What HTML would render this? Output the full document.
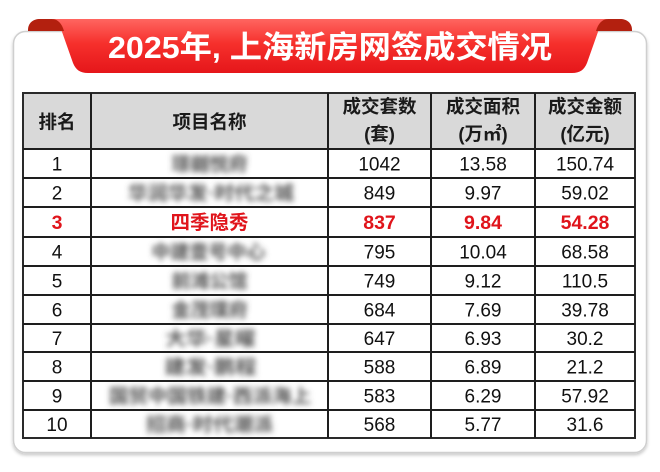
<!DOCTYPE html>
<html><head><meta charset="utf-8">
<style>
html,body{margin:0;padding:0;background:#fff;}
body{width:660px;height:472px;overflow:hidden;}
svg{display:block;}
text{font-family:"Liberation Sans","Noto Sans CJK SC",sans-serif;}
</style></head>
<body>
<svg width="660" height="472" viewBox="0 0 660 472" xmlns="http://www.w3.org/2000/svg">
<defs>
<linearGradient id="rg" x1="0" y1="0" x2="0" y2="1">
<stop offset="0" stop-color="#ff6560"/>
<stop offset="0.45" stop-color="#f6302c"/>
<stop offset="1" stop-color="#e5161a"/>
</linearGradient>
<filter id="bl" x="-10%" y="-80%" width="120%" height="260%"><feGaussianBlur stdDeviation="2.8"/></filter>
<filter id="sh" x="-5%" y="-5%" width="110%" height="110%"><feDropShadow dx="0" dy="2" stdDeviation="1.5" flood-color="#000" flood-opacity="0.22"/></filter>
</defs>

<!-- card -->
<rect x="13.5" y="31.5" width="633" height="421" rx="12" ry="12" fill="#fff" stroke="#cfcfcf" stroke-width="1.5" filter="url(#sh)"/>

<!-- ribbon -->
<path d="M50,19 H610 C604,19 601,23 599,29 L587,63 C584,70 580,73 572,73 H88 C80,73 76,70 73,63 L61,29 C59,23 56,19 50,19 Z" fill="url(#rg)"/>
<path d="M28,31 V30 C28,23 33,19 40,19 H52 C58,19 62,24 64,31 Z" fill="#b3200f"/>
<path d="M632,31 V30 C632,23 627,19 620,19 H608 C602,19 598,24 596,31 Z" fill="#b3200f"/>
<text x="330" y="58" text-anchor="middle" font-size="31" font-weight="bold" fill="#fff" textLength="444" lengthAdjust="spacingAndGlyphs">2025年, 上海新房网签成交情况</text>

<!-- table header bg -->
<rect x="23" y="93" width="612" height="56" fill="#d9d9d9"/>

<!-- grid -->
<g stroke="#1e1e1e" stroke-width="2" fill="none">
<rect x="23" y="93" width="612" height="345" stroke="#2a2a2a"/>
<line x1="91" y1="93" x2="91" y2="438"/>
<line x1="328" y1="93" x2="328" y2="438"/>
<line x1="431" y1="93" x2="431" y2="438"/>
<line x1="535" y1="93" x2="535" y2="438"/>
<line x1="23" y1="149" x2="635" y2="149"/>
<line x1="23" y1="178" x2="635" y2="178"/>
<line x1="23" y1="207" x2="635" y2="207"/>
<line x1="23" y1="237" x2="635" y2="237"/>
<line x1="23" y1="266" x2="635" y2="266"/>
<line x1="23" y1="295" x2="635" y2="295"/>
<line x1="23" y1="324" x2="635" y2="324"/>
<line x1="23" y1="352" x2="635" y2="352"/>
<line x1="23" y1="381" x2="635" y2="381"/>
<line x1="23" y1="410" x2="635" y2="410"/>
</g>

<!-- header text -->
<g font-size="18.5" font-weight="bold" fill="#1a1a1a" text-anchor="middle">
<text x="57" y="128.5">排名</text>
<text x="209.5" y="128.5">项目名称</text>
<text x="379.5" y="113">成交套数</text>
<text x="379.5" y="140.5">(套)</text>
<text x="483" y="113">成交面积</text>
<text x="483" y="140.5">(万㎡)</text>
<text x="585" y="113">成交金额</text>
<text x="585" y="140.5">(亿元)</text>
</g>

<!-- body -->
<g font-size="19" fill="#111" text-anchor="middle">
<text x="57" y="170.5">1</text><text x="379.5" y="170.5">1042</text><text x="483" y="170.5">13.58</text><text x="585" y="170.5">150.74</text>
<text x="57" y="199.5">2</text><text x="379.5" y="199.5">849</text><text x="483" y="199.5">9.97</text><text x="585" y="199.5">59.02</text>
<text x="57" y="258.5">4</text><text x="379.5" y="258.5">795</text><text x="483" y="258.5">10.04</text><text x="585" y="258.5">68.58</text>
<text x="57" y="287.5">5</text><text x="379.5" y="287.5">749</text><text x="483" y="287.5">9.12</text><text x="585" y="287.5">110.5</text>
<text x="57" y="316.5">6</text><text x="379.5" y="316.5">684</text><text x="483" y="316.5">7.69</text><text x="585" y="316.5">39.78</text>
<text x="57" y="345">7</text><text x="379.5" y="345">647</text><text x="483" y="345">6.93</text><text x="585" y="345">30.2</text>
<text x="57" y="373.5">8</text><text x="379.5" y="373.5">588</text><text x="483" y="373.5">6.89</text><text x="585" y="373.5">21.2</text>
<text x="57" y="402.5">9</text><text x="379.5" y="402.5">583</text><text x="483" y="402.5">6.29</text><text x="585" y="402.5">57.92</text>
<text x="57" y="431">10</text><text x="379.5" y="431">568</text><text x="483" y="431">5.77</text><text x="585" y="431">31.6</text>
</g>

<!-- highlighted row -->
<g font-size="19.5" font-weight="bold" fill="#e0141b" text-anchor="middle">
<text x="57" y="229">3</text>
<text x="209.5" y="229">四季隐秀</text>
<text x="379.5" y="229">837</text>
<text x="483" y="229">9.84</text>
<text x="585" y="229">54.28</text>
</g>

<!-- blurred names -->
<g font-size="19" font-weight="bold" fill="#555" text-anchor="middle" filter="url(#bl)">
<text x="209.5" y="170.5">璟樾悦府</text>
<text x="211" y="199.5" textLength="166" lengthAdjust="spacingAndGlyphs">华润华发·时代之城</text>
<text x="208.5" y="258.5">中建壹号中心</text>
<text x="209.5" y="287.5">前滩公馆</text>
<text x="209.5" y="316.5">金茂璞府</text>
<text x="210.5" y="345" textLength="90" lengthAdjust="spacingAndGlyphs">大华·星曜</text>
<text x="210.5" y="373.5" textLength="92" lengthAdjust="spacingAndGlyphs">建发·鹏程</text>
<text x="210" y="402.5" textLength="202" lengthAdjust="spacingAndGlyphs">国贸中国铁建·西派海上</text>
<text x="209.5" y="431" textLength="127" lengthAdjust="spacingAndGlyphs">招商·时代潮派</text>
</g>
</svg>
</body></html>
